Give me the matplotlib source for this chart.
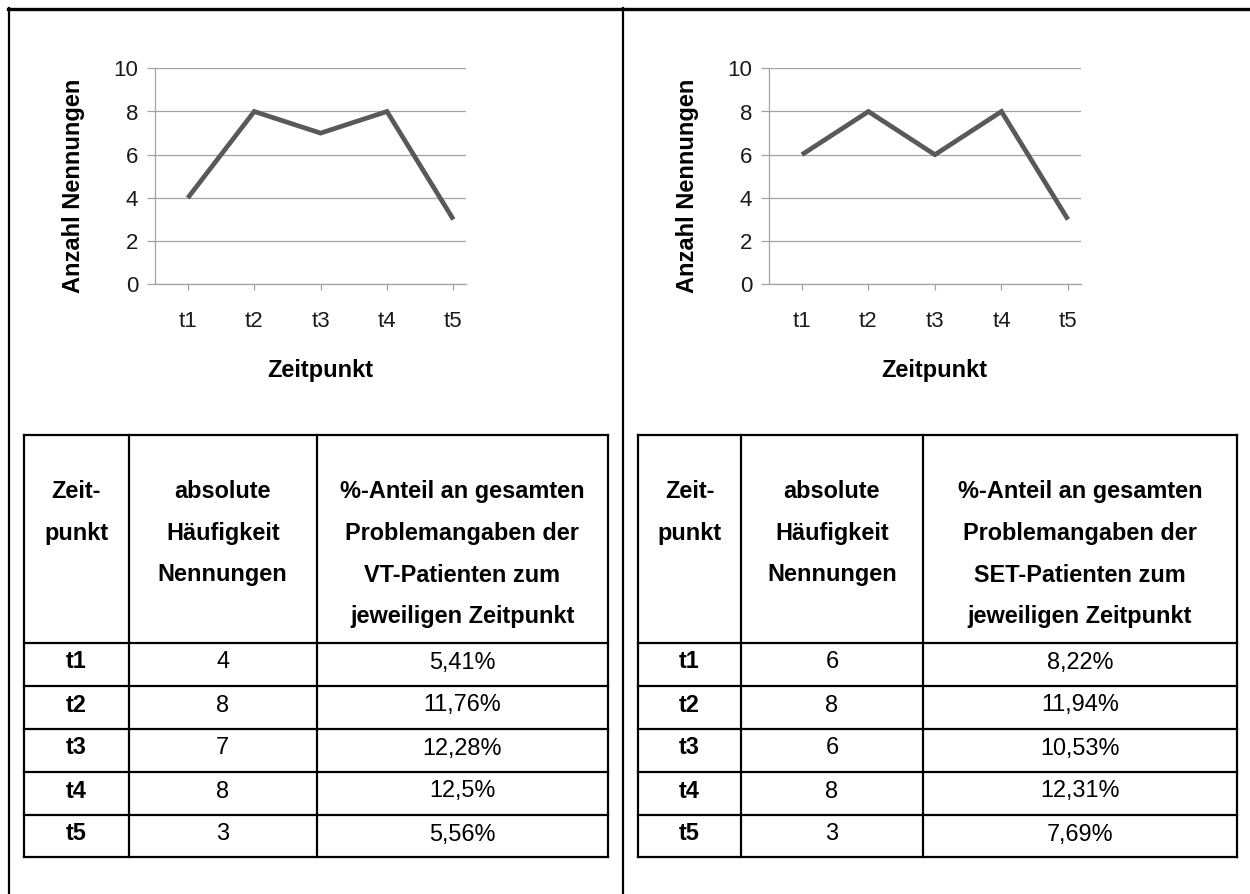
import matplotlib
matplotlib.use("Agg")
import matplotlib.pyplot as plt
from matplotlib.lines import Line2D

plt.rcParams['font.family'] = ['Liberation Sans', 'DejaVu Sans']

# ---- data -------------------------------------------------------------
timepoints = ["t1", "t2", "t3", "t4", "t5"]
vt_counts = [4, 8, 7, 8, 3]
set_counts = [6, 8, 6, 8, 3]
vt_share = ["5,41%", "11,76%", "12,28%", "12,5%", "5,56%"]
set_share = ["8,22%", "11,94%", "10,53%", "12,31%", "7,69%"]
y_ticks = [0, 2, 4, 6, 8, 10]

x_label = "Zeitpunkt"
y_label = "Anzahl Nennungen"
head_col1 = ["Zeit-", "punkt"]
head_col2 = ["absolute", "Häufigkeit", "Nennungen"]
head_col3_vt = ["%-Anteil an gesamten", "Problemangaben der",
                "VT-Patienten zum", "jeweiligen Zeitpunkt"]
head_col3_set = ["%-Anteil an gesamten", "Problemangaben der",
                 "SET-Patienten zum", "jeweiligen Zeitpunkt"]

# ---- canvas -----------------------------------------------------------
W, H = 1250, 894
DPI = 100
fig = plt.figure(figsize=(W / DPI, H / DPI), dpi=DPI)
fig.patch.set_facecolor("white")

# overlay in pixel coordinates for frame and tables
ov = fig.add_axes([0, 0, 1, 1], zorder=0)
ov.set_xlim(0, W)
ov.set_ylim(H, 0)
ov.axis("off")

GRID = "#a3a3a3"
LINE = "#595959"


def px_axes(left, right, top, bottom):
    return [left / W, (H - bottom) / H, (right - left) / W, (bottom - top) / H]


def line_chart(left, right, top, bottom, values):
    ax = fig.add_axes(px_axes(left, right, top, bottom), zorder=2)
    ax.set_facecolor("none")
    xs = list(range(len(timepoints)))
    ax.plot(xs, values, color=LINE, lw=3.4, solid_joinstyle="miter",
            solid_capstyle="butt", zorder=3)
    ax.set_ylim(0, 10)
    ax.set_xlim(-0.49, 4.19)
    ax.set_yticks(y_ticks)
    ax.set_xticks(xs)
    ax.set_xticklabels(timepoints)
    ax.grid(axis="y", color=GRID, lw=0.9)
    ax.set_axisbelow(True)
    for s in ("top", "right"):
        ax.spines[s].set_visible(False)
    for s in ("left", "bottom"):
        ax.spines[s].set_color(GRID)
        ax.spines[s].set_linewidth(0.9)
    ax.tick_params(axis="y", length=5.8, width=0.9, color=GRID, pad=6.5,
                   labelsize=16, labelcolor="#1a1a1a")
    ax.tick_params(axis="x", length=4.3, width=0.9, color=GRID, pad=15,
                   labelsize=16, labelcolor="#1a1a1a")
    ax.set_xlabel(x_label, fontsize=17, fontweight="bold", va="center")
    ax.xaxis.set_label_coords(0.531, -0.40)
    ax.set_ylabel(y_label, fontsize=17, fontweight="bold",
                  va="center", ha="center")
    ax.yaxis.set_label_coords(-0.262, 0.455)
    return ax


line_chart(155.3, 466.0, 68.3, 284.3, vt_counts)
line_chart(769.3, 1080.6, 68.3, 284.3, set_counts)

# ---- outer frame ------------------------------------------------------
ov.add_line(Line2D([8, W], [8.5, 8.5], color="black", lw=2.4))
ov.add_line(Line2D([8.5, 8.5], [8, H], color="black", lw=1.6))
ov.add_line(Line2D([623, 623], [8, H], color="black", lw=1.6))

# ---- tables -----------------------------------------------------------
ROWS = [435, 643, 686, 729, 772, 815, 857]
HEAD_BASE = [498, 540, 581.5, 622.5]
FS = 16.9


def table(cols, head3, counts, shares):
    x0, x1, x2, x3 = cols
    for y in ROWS:
        ov.add_line(Line2D([x0, x3], [y, y], color="black", lw=1.6))
    for x in cols:
        ov.add_line(Line2D([x, x], [ROWS[0], ROWS[-1]], color="black", lw=1.6))
    c1, c2, c3 = (x0 + x1) / 2, (x1 + x2) / 2, (x2 + x3) / 2
    for lines, cx in ((head_col1, c1), (head_col2, c2), (head3, c3)):
        for txt, yb in zip(lines, HEAD_BASE):
            ov.text(cx, yb, txt, ha="center", va="baseline", fontsize=FS,
                    fontweight="bold", color="black")
    for i, (tp, n, pct) in enumerate(zip(timepoints, counts, shares)):
        yb = ROWS[i + 1] + 25.5
        ov.text(c1, yb, tp, ha="center", va="baseline", fontsize=FS,
                fontweight="bold", color="black")
        ov.text(c2, yb, str(n), ha="center", va="baseline", fontsize=FS,
                color="black")
        ov.text(c3, yb, pct, ha="center", va="baseline", fontsize=FS,
                color="black")


table((24, 128.7, 316.7, 608), head_col3_vt, vt_counts, vt_share)
table((638, 741, 923, 1237), head_col3_set, set_counts, set_share)

fig.savefig("out.png", dpi=DPI, facecolor="white")
